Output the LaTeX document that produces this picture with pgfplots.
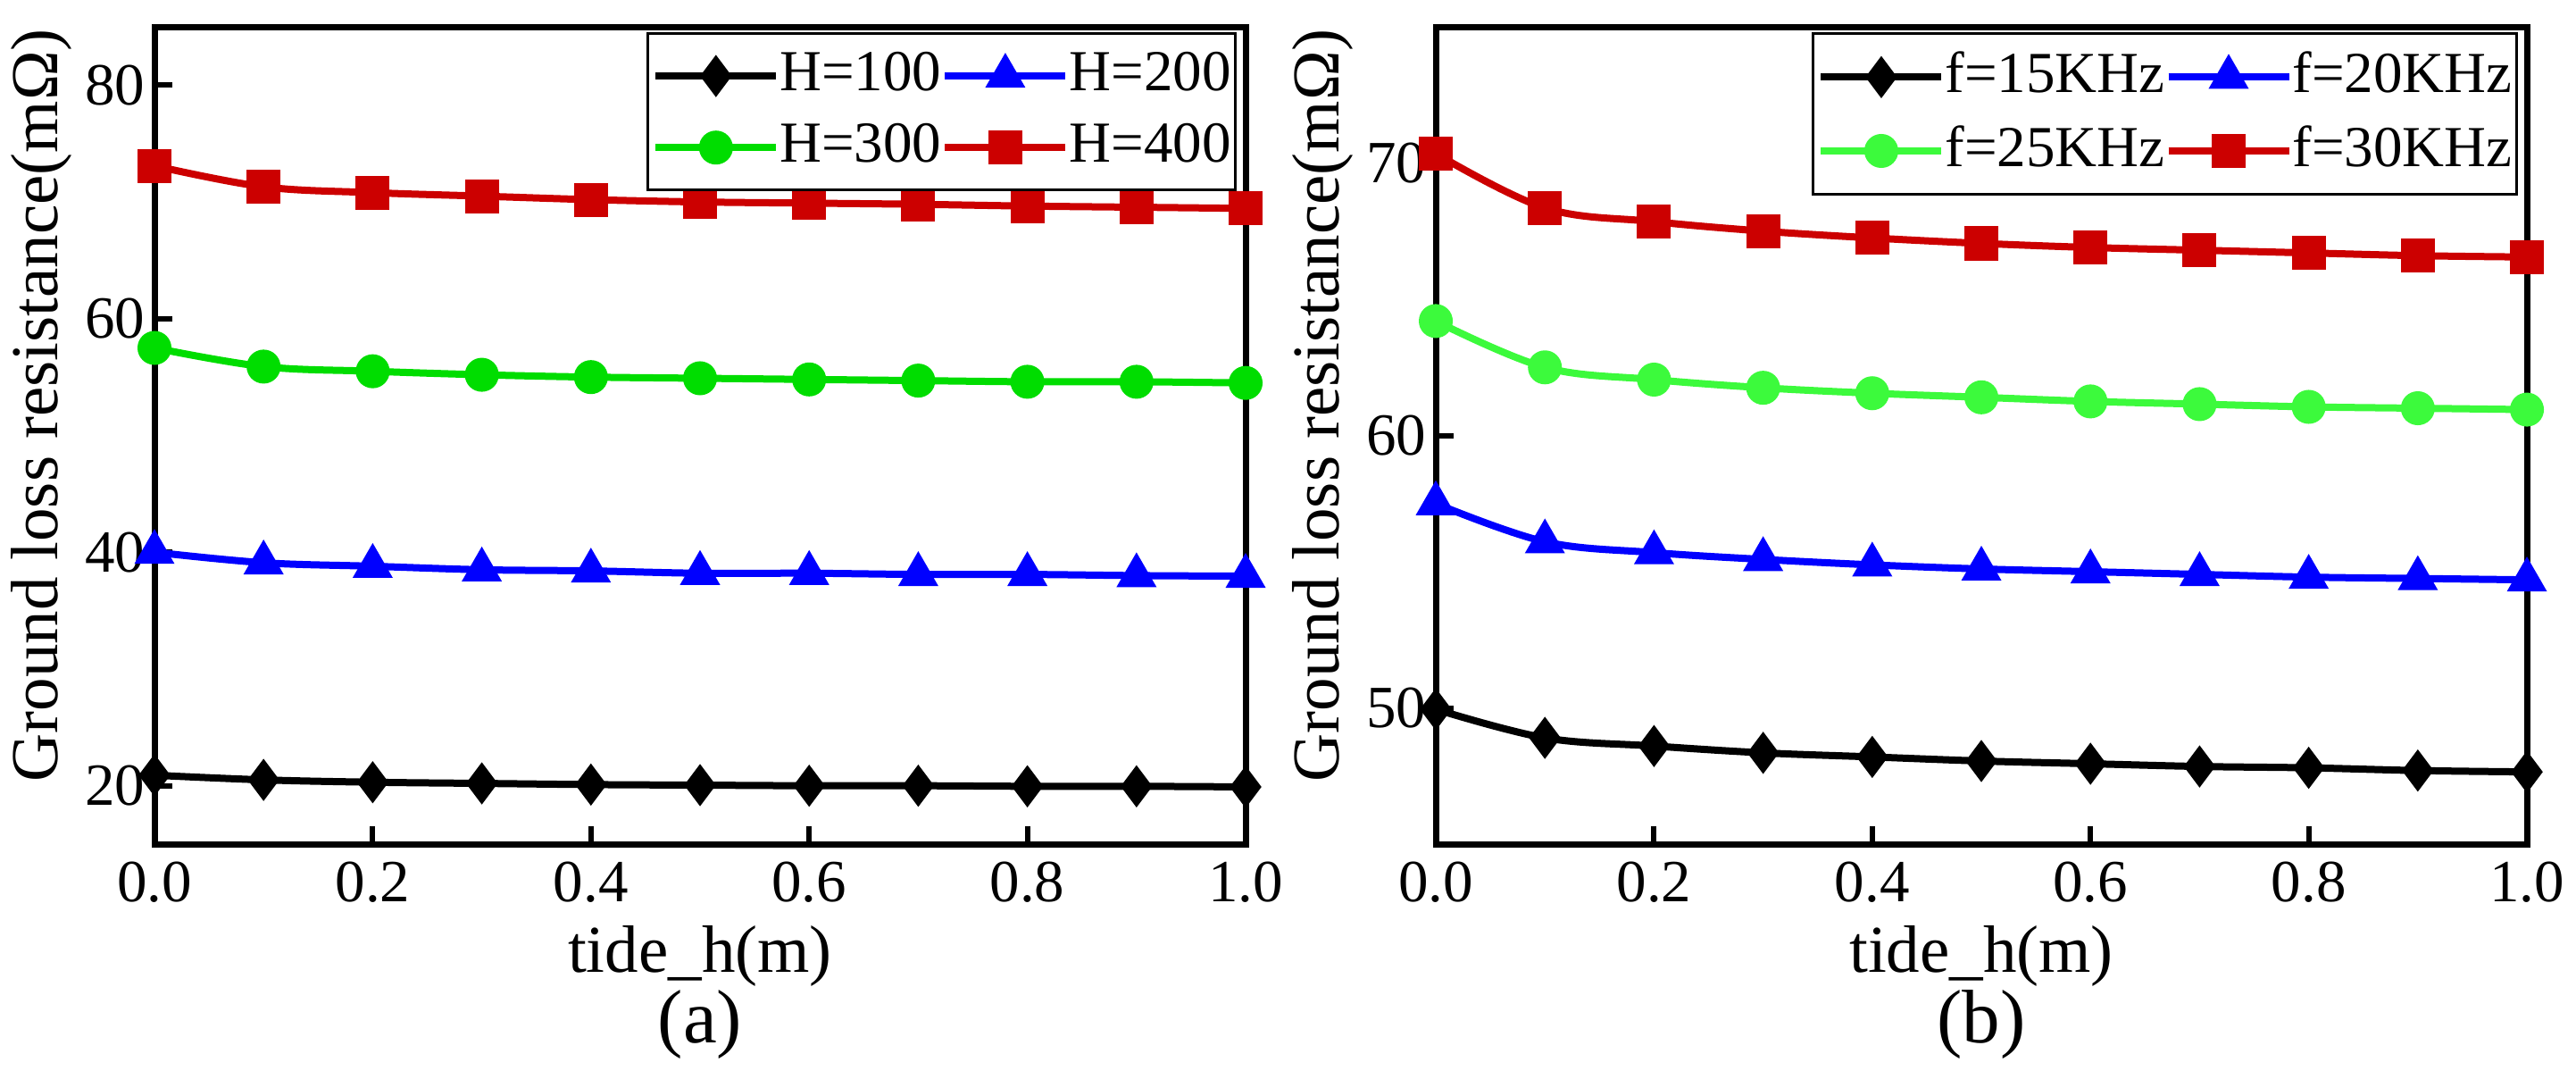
\documentclass[border=0pt]{standalone}
\usepackage{fontspec}
\setmainfont{Liberation Serif}
\usepackage{pgfplots}
\pgfplotsset{compat=1.18}
\definecolor{cred}{RGB}{204,0,0}
\definecolor{cblue}{RGB}{0,0,255}
\definecolor{cgreenA}{RGB}{0,221,0}
\definecolor{cgreenB}{RGB}{60,250,60}
\begin{document}
\fontsize{14.5}{17}\selectfont
\begin{tikzpicture}
\path[use as bounding box] (-34.6pt,-52.4pt) rectangle (542.4pt,189pt);
\pgfplotsset{
  myaxis/.style={
    scale only axis, width=244.4pt, height=183pt,
    xmin=0, xmax=1, xtick={0,0.2,...,1.0},
    axis line style={line width=1.4pt},
    tick style={line width=1.2pt, black},
    major tick length=4pt, tick align=inside,
    xtick pos=bottom, ytick pos=left,
    /pgf/number format/assume math mode=true,
    tick label style={font=\fontsize{13.4}{16}\selectfont},
    yticklabel style={inner xsep=2pt},
    xticklabel style={inner ysep=3.8pt, /pgf/number format/.cd, fixed, fixed zerofill, precision=1},
    xlabel={tide\_h(m)},
    ylabel={Ground loss resistance(mΩ)},
    every axis x label/.style={at={(rel axis cs:0.5,0)}, yshift=-25pt, anchor=center, font=\fontsize{15}{17}\selectfont},
    every axis y label/.style={at={(rel axis cs:0,0.537)}, xshift=-25.4pt, rotate=90, anchor=center, font=\fontsize{15}{17}\selectfont},
    clip=false,
    legend columns=2,
    legend cell align=left,
    legend style={at={(1,1)}, anchor=north east, xshift=-2pt, yshift=-1.2pt,
      draw=black, line width=0.6pt, inner xsep=1pt, inner ysep=1.5pt,
      font=\fontsize{13}{15}\selectfont,
      nodes={inner xsep=0pt, inner ysep=2.6pt},
      /tikz/every even column/.append style={column sep=0pt}},
    legend image code/.code={\draw[mark repeat=2,mark phase=2] plot coordinates {(0pt,0pt) (13.5pt,0pt) (27pt,0pt)};},
    every axis plot/.append style={line width=1.6pt, smooth, tension=0.6},
  },
}
\begin{axis}[myaxis, at={(0,0)}, anchor=south west,
  ymin=15, ymax=85, ytick={20,40,60,80}]
\addplot[black, mark=diamond*, mark size=3.4pt, mark options={solid}] coordinates {
(0,20.9)(0.1,20.5)(0.2,20.3)(0.3,20.2)(0.4,20.1)(0.5,20.05)(0.6,20.0)(0.7,20.0)(0.8,19.95)(0.9,19.95)(1.0,19.9)};
\addlegendentry{H=100}
\addplot[cblue, mark=triangle*, mark size=3.6pt, mark options={solid}] coordinates {
(0,40.0)(0.1,39.1)(0.2,38.8)(0.3,38.5)(0.4,38.4)(0.5,38.2)(0.6,38.2)(0.7,38.1)(0.8,38.1)(0.9,38.0)(1.0,37.95)};
\addlegendentry{H=200}
\addplot[cgreenA, mark=*, mark size=3pt, mark options={solid}] coordinates {
(0,57.5)(0.1,55.9)(0.2,55.5)(0.3,55.2)(0.4,55.0)(0.5,54.9)(0.6,54.8)(0.7,54.7)(0.8,54.6)(0.9,54.6)(1.0,54.5)};
\addlegendentry{H=300}
\addplot[cred, mark=square*, mark size=3pt, mark options={solid}] coordinates {
(0,73.1)(0.1,71.3)(0.2,70.8)(0.3,70.5)(0.4,70.2)(0.5,70.0)(0.6,69.9)(0.7,69.8)(0.8,69.65)(0.9,69.55)(1.0,69.45)};
\addlegendentry{H=400}
\node at (rel axis cs:0.5,0) [yshift=-40.4pt] {\fontsize{17}{19}\selectfont (a)};
\end{axis}
\begin{axis}[myaxis, at={(287pt,0)}, anchor=south west,
  ymin=45, ymax=75, ytick={50,60,70}]
\addplot[black, mark=diamond*, mark size=3.4pt, mark options={solid}] coordinates {
(0,49.95)(0.1,48.9)(0.2,48.6)(0.3,48.35)(0.4,48.2)(0.5,48.05)(0.6,47.95)(0.7,47.85)(0.8,47.8)(0.9,47.7)(1.0,47.65)};
\addlegendentry{f=15KHz}
\addplot[cblue, mark=triangle*, mark size=3.6pt, mark options={solid}] coordinates {
(0,57.5)(0.1,56.1)(0.2,55.7)(0.3,55.45)(0.4,55.25)(0.5,55.1)(0.6,55.0)(0.7,54.9)(0.8,54.8)(0.9,54.75)(1.0,54.7)};
\addlegendentry{f=20KHz}
\addplot[cgreenB, mark=*, mark size=3pt, mark options={solid}] coordinates {
(0,64.2)(0.1,62.5)(0.2,62.05)(0.3,61.75)(0.4,61.55)(0.5,61.4)(0.6,61.25)(0.7,61.15)(0.8,61.05)(0.9,61.0)(1.0,60.95)};
\addlegendentry{f=25KHz}
\addplot[cred, mark=square*, mark size=3pt, mark options={solid}] coordinates {
(0,70.35)(0.1,68.35)(0.2,67.85)(0.3,67.5)(0.4,67.25)(0.5,67.05)(0.6,66.9)(0.7,66.8)(0.8,66.7)(0.9,66.6)(1.0,66.55)};
\addlegendentry{f=30KHz}
\node at (rel axis cs:0.5,0) [yshift=-40.4pt] {\fontsize{17}{19}\selectfont (b)};
\end{axis}
\end{tikzpicture}
\end{document}
